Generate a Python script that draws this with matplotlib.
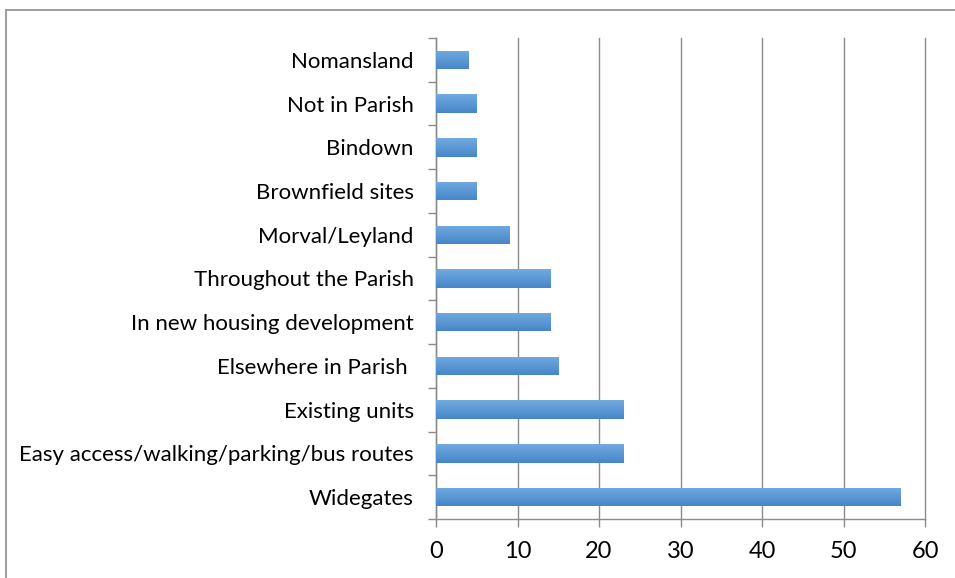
import matplotlib.pyplot as plt
import numpy as np
from matplotlib.lines import Line2D
from matplotlib.colors import LinearSegmentedColormap

categories = ["Widegates", "Easy access/walking/parking/bus routes", "Existing units",
              "Elsewhere in Parish ", "In new housing development", "Throughout the Parish",
              "Morval/Leyland", "Brownfield sites", "Bindown", "Not in Parish", "Nomansland"]
values = [57, 23, 23, 15, 14, 14, 9, 5, 5, 5, 4]
xticks = [0, 10, 20, 30, 40, 50, 60]

plt.rcParams['font.family'] = ['Lato', 'DejaVu Sans']

fig = plt.figure(figsize=(9.55, 5.78), dpi=100)
ax = fig.add_axes([436 / 955, 1 - 519 / 578, 489 / 955, 481 / 578])

grey = "#8c8c8c"
y = np.arange(len(categories))
bars = ax.barh(y, values, height=0.42, color="#5b9bd5", zorder=3)

# vertical gradient inside each bar
cmap = LinearSegmentedColormap.from_list("bar", ["#4686c8", "#72aae0"])
grad = np.linspace(0, 1, 50).reshape(-1, 1)
for b in bars:
    x0, y0 = b.get_x(), b.get_y()
    w, h = b.get_width(), b.get_height()
    im = ax.imshow(grad, cmap=cmap, aspect="auto", origin="lower",
                   extent=[x0, x0 + w, y0, y0 + h], zorder=4)
    im.set_clip_path(b)

ax.set_xlim(0, 60)
ax.set_ylim(-0.5, len(categories) - 0.5)
ax.set_xticks(xticks)
ax.set_xticklabels([str(t) for t in xticks], fontsize=17)
ax.set_yticks(y)
ax.set_yticklabels(categories, fontsize=16)
ax.set_yticks(np.arange(-0.5, len(categories)), minor=True)
ax.tick_params(axis="y", which="major", length=0, pad=16)
ax.tick_params(axis="y", which="minor", length=6, color=grey, width=1)
ax.tick_params(axis="x", length=6, color=grey, width=1, pad=10)
ax.grid(axis="x", color=grey, linewidth=1, zorder=0)
for gl in ax.get_xgridlines():
    gl.set_clip_on(False)

for s in ["top", "right"]:
    ax.spines[s].set_visible(False)
for s in ["left", "bottom"]:
    ax.spines[s].set_color(grey)
    ax.spines[s].set_linewidth(1)

# outer chart border
fig.add_artist(Line2D([6 / 955, 1], [1 - 10 / 578, 1 - 10 / 578], color=grey, lw=1.2))
fig.add_artist(Line2D([6 / 955, 6 / 955], [0, 1 - 10 / 578], color="#a0a0a0", lw=1.5))

fig.savefig("out.png", dpi=100)
